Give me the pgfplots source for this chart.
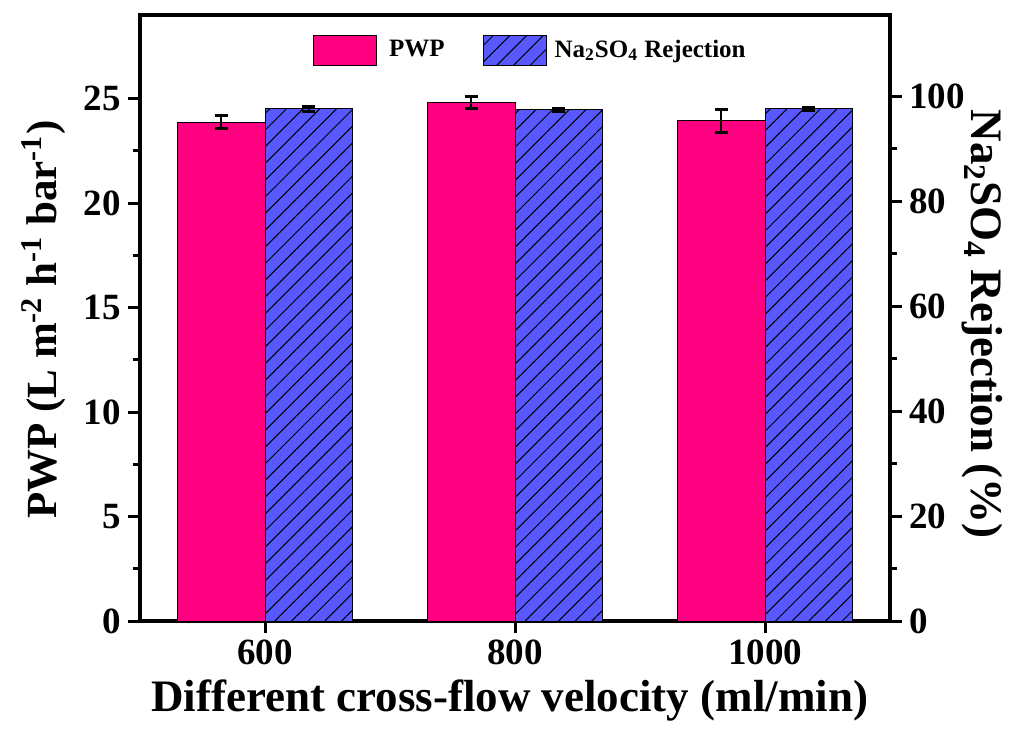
\documentclass[border=0pt]{standalone}
\usepackage{fontspec}
\setmainfont{Liberation Serif}
\usepackage{pgfplots}
\pgfplotsset{compat=1.18}
\usetikzlibrary{patterns.meta}
\definecolor{pwpc}{RGB}{255,0,128}
\definecolor{nac}{RGB}{88,88,255}
\begin{document}
\begin{tikzpicture}
\pgfplotsset{
  common/.style={
    scale only axis, width=375pt, height=303pt,
    at={(0pt,0pt)}, anchor=south west,
    xmin=-0.5, xmax=2.5, ymin=0,
    axis line style={line width=1.75pt},
    major tick length=6pt, minor tick length=3.5pt,
    every tick/.style={line width=1.5pt, black},
    tick align=outside,
    /pgf/number format/assume math mode=true,
    ticklabel style={font=\bfseries\fontsize{18.5}{22}\selectfont},
  },
  hatch/.style={fill=nac, draw=black, line width=0.5pt,
    postaction={pattern={Lines[angle=45,distance=5.9pt,line width=0.5pt]}, pattern color=black}},
  boxlegend/.style={legend image code/.code={\draw[##1] (0pt,-7.5pt) rectangle (31.5pt,7.5pt);}},
}
\begin{axis}[common,
  ymax=29,
  xtick={0,1,2}, xticklabels={600,800,1000},
  xtick pos=bottom, ytick pos=left,
  ytick={0,5,10,15,20,25}, minor y tick num=1,
  xlabel={Different cross-flow velocity (ml/min)},
  ylabel={PWP (L m\textsuperscript{-2} h\textsuperscript{-1} bar\textsuperscript{-1})},
  every axis x label/.style={at={(rel axis cs:0.493,0)}, anchor=center, yshift=-40pt, font=\bfseries\fontsize{22.5}{26}\selectfont},
  every axis y label/.style={at={(rel axis cs:0,0.497)}, xshift=-48pt, anchor=center, rotate=90, font=\bfseries\fontsize{21.5}{26}\selectfont},
]
\addplot[ybar, bar width=0.35, bar shift=0pt, fill=pwpc, draw=black, line width=0.5pt,
  error bars/.cd, y dir=both, y explicit,
  error bar style={line width=1pt, black},
  error mark options={rotate=90, mark size=3.25pt, line width=1.5pt, black}]
  coordinates {(-0.175,23.87) +- (0,0.30) (0.825,24.82) +- (0,0.28) (1.825,23.95) +- (0,0.55)};
\end{axis}
\begin{axis}[common,
  ymax=115.5,
  axis x line=none, axis y line*=right, ytick pos=right,
  ytick={0,20,40,60,80,100}, minor y tick num=1,
  ylabel={Na\textsubscript{2}SO\textsubscript{4} Rejection (\%)},
  every axis y label/.style={at={(rel axis cs:1,0.49)}, xshift=46pt, anchor=center, rotate=-90, font=\bfseries\fontsize{22.5}{26}\selectfont},
  legend style={draw=none, fill=none, at={(0.222,0.975)}, anchor=north west,
    font=\bfseries\fontsize{12.5}{15}\selectfont, legend columns=2,
    /tikz/every even column/.append style={column sep=17pt}},
]
\addlegendimage{boxlegend, fill=pwpc, draw=black, line width=0.6pt}
\addlegendentry{\hspace{4pt}PWP}
\addplot[ybar, bar width=0.35, bar shift=0pt, hatch, boxlegend,
  error bars/.cd, y dir=both, y explicit,
  error bar style={line width=1pt, black},
  error mark options={rotate=90, mark size=3.25pt, line width=1.5pt, black}]
  coordinates {(0.175,97.6) +- (0,0.4) (1.175,97.45) +- (0,0.3) (2.175,97.6) +- (0,0.3)};
\addlegendentry{\hspace{2pt}Na\textsubscript{2}SO\textsubscript{4} Rejection}
\end{axis}
\pgfresetboundingbox
\path[use as bounding box] (-70pt,-54pt) rectangle (441pt,310.5pt);
\end{tikzpicture}
\end{document}
